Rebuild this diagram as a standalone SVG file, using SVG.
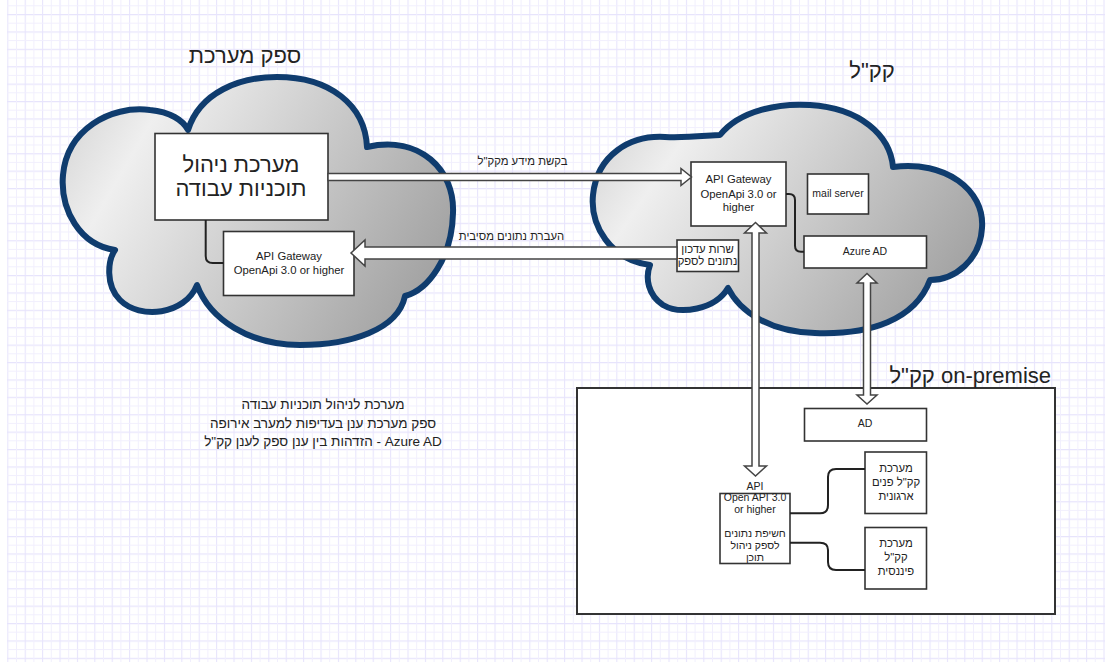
<svg xmlns="http://www.w3.org/2000/svg" width="1105" height="662" viewBox="0 0 1105 662">
<defs>
<pattern id="grid" patternUnits="userSpaceOnUse" x="7.3" y="14" width="17.4" height="17.4">
<path d="M0.5,0 V17.4 M0,0.5 H17.4" stroke="#e7e4fc" stroke-width="1.2" fill="none"/>
<path d="M9.2,0 V17.4 M0,9.2 H17.4" stroke="#f1effd" stroke-width="1" fill="none"/>
</pattern>
<linearGradient id="cg" x1="0" y1="0.3" x2="1" y2="0.7">
<stop offset="0" stop-color="#dcdcdc"/>
<stop offset="0.15" stop-color="#efefef"/>
<stop offset="1" stop-color="#a0a0a0"/>
</linearGradient>
<style>
.cloud{fill:url(#cg);stroke:#0f3c6e;stroke-width:6;stroke-linejoin:round}
.box{fill:#fff;stroke:#333;stroke-width:1.6}
.t{font-family:"Liberation Sans","DejaVu Sans",sans-serif;fill:#222;text-anchor:middle}
.big{font-size:22px}
.s{font-size:11.3px}
.xs{font-size:10.5px}
.lg{font-size:13.5px}
.arr{fill:#fff;stroke:#444;stroke-width:1.5;stroke-linejoin:miter}
.ln{fill:none;stroke:#222;stroke-width:2}
</style>
</defs>
<rect x="0" y="0" width="1105" height="662" fill="#fff"/>
<rect x="7" y="0" width="1098" height="662" fill="url(#grid)"/>

<g id="cloud-supplier">
<path class="cloud" d="M188,130 C200,92 240,77 277,77 C330,77 365,105 367,147 C420,135 455,170 453,213 C452,258 428,290 405,296 C398,330 350,345 300,345 C250,345 210,320 197,285 C185,315 140,320 120,300 C105,285 108,260 115,250 C80,245 60,210 63,175 C67,130 110,105 150,110 C170,112 183,120 188,130 Z"/>
<text class="t big" x="245" y="63">ספק מערכת</text>
</g>
<g id="cloud-kkl">
<path class="cloud" d="M720,135 C740,110 780,103 810,105 C860,108 890,135 893,167 C945,160 985,190 982,228 C980,260 955,280 930,280 C915,320 870,335 815,333 C770,332 740,312 728,288 C715,310 680,315 663,305 C648,295 645,278 650,265 C610,260 590,225 593,195 C597,155 630,135 665,137 C690,138 710,135 720,135 Z"/>
<text class="t big" x="872" y="78">קק"ל</text>
</g>
<g id="onprem">
<rect x="577" y="388" width="478" height="226" fill="#fff" stroke="#333" stroke-width="2"/>
<text class="t big" x="1051" y="383" style="text-anchor:end">קק"ל on-premise</text>
</g>

<g id="work-plans">
<rect class="box" x="155" y="133.5" width="173" height="86.5"/>
<text class="t big" x="241" y="172">מערכת ניהול</text>
<text class="t big" x="241" y="196">תוכניות עבודה</text>
</g>
<g id="supplier-gateway">
<rect class="box" x="223.5" y="231.5" width="130.5" height="64"/>
<text class="t s" x="289" y="260">API Gateway</text>
<text class="t s" x="289" y="273.5">OpenApi 3.0 or higher</text>
</g>
<g id="kkl-gateway">
<rect class="box" x="691" y="162" width="95" height="64"/>
<text class="t s" x="738.5" y="183">API Gateway</text>
<text class="t s" x="738.5" y="197.5">OpenApi 3.0 or</text>
<text class="t s" x="738.5" y="211">higher</text>
</g>
<g id="mail-server">
<rect class="box" x="807.5" y="174" width="61" height="40"/>
<text class="t xs" x="838" y="197">mail server</text>
</g>
<g id="azure-ad">
<rect class="box" x="804" y="236" width="122.5" height="32"/>
<text class="t xs" x="865" y="255">Azure AD</text>
</g>
<g id="update-service">
<rect class="box" x="677" y="240" width="61.5" height="31.5"/>
<text class="t s" x="707.5" y="252.5">שרות עדכון</text>
<text class="t s" x="707.5" y="265">נתונים לספק</text>
</g>
<g id="ad">
<rect class="box" x="804.5" y="408.5" width="122" height="32.5"/>
<text class="t xs" x="865" y="427">AD</text>
</g>
<g id="internal-system">
<rect class="box" x="865" y="452" width="61.5" height="61.5"/>
<text class="t s" x="896" y="472">מערכת</text>
<text class="t s" x="896" y="486">קק"ל פנים</text>
<text class="t s" x="896" y="500">ארגונית</text>
</g>
<g id="finance-system">
<rect class="box" x="865" y="527.5" width="61.5" height="61.5"/>
<text class="t s" x="896" y="547">מערכת</text>
<text class="t s" x="896" y="561">קק"ל</text>
<text class="t s" x="896" y="575">פיננסית</text>
</g>
<g id="onprem-api">
<rect class="box" x="720" y="493.5" width="70" height="70"/>
<text class="t xs" x="755" y="490">API</text>
<text class="t xs" x="755" y="500.5">Open API 3.0</text>
<text class="t xs" x="755" y="513">or higher</text>
<text class="t xs" x="755" y="537">חשיפת נתונים</text>
<text class="t xs" x="755" y="549">לספק ניהול</text>
<text class="t xs" x="755" y="561">תוכן</text>
</g>

<g id="legend">
<text class="t lg" x="323" y="409">מערכת לניהול תוכניות עבודה</text>
<text class="t lg" x="323" y="427.5">ספק מערכת ענן בעדיפות למערב אירופה</text>
<text class="t lg" x="323" y="446" direction="rtl">Azure AD - הזדהות בין ענן ספק לענן קק"ל</text>
</g>

<g id="connectors">
<path class="ln" d="M205.7,220 V256 Q205.7,263 212.7,263 H223.5"/>
<path class="ln" d="M786,194 H789 Q795,194 795,200 V245.7 Q795,251.7 801,251.7 H804"/>
<path class="ln" d="M790,513.3 H820 Q828,513.3 828,505 V477 Q828,469 836,469 H865"/>
<path class="ln" d="M790,542.7 H820 Q828,542.7 828,550 V562 Q828,570 836,570 H865"/>
<polygon class="arr" points="328,173.5 681,173.5 681,168.5 691.5,177 681,185.5 681,180.5 328,180.5"/>
<polygon class="arr" points="677,247 365,247 365,240 351,253 365,266 365,259 677,259"/>
<polygon class="arr" points="752,233 744.5,233 755.5,222.5 766.5,233 759,233 759,466 766.5,466 755.5,476 744.5,466 752,466"/>
<polygon class="arr" points="863.5,283 857,283 867,273.5 877,283 870.5,283 870.5,395 877,395 867,404 857,395 863.5,395"/>
<text class="t s" x="522.5" y="165">בקשת מידע מקק"ל</text>
<text class="t s" x="511.5" y="240">העברת נתונים מסיבית</text>
</g>
</svg>
